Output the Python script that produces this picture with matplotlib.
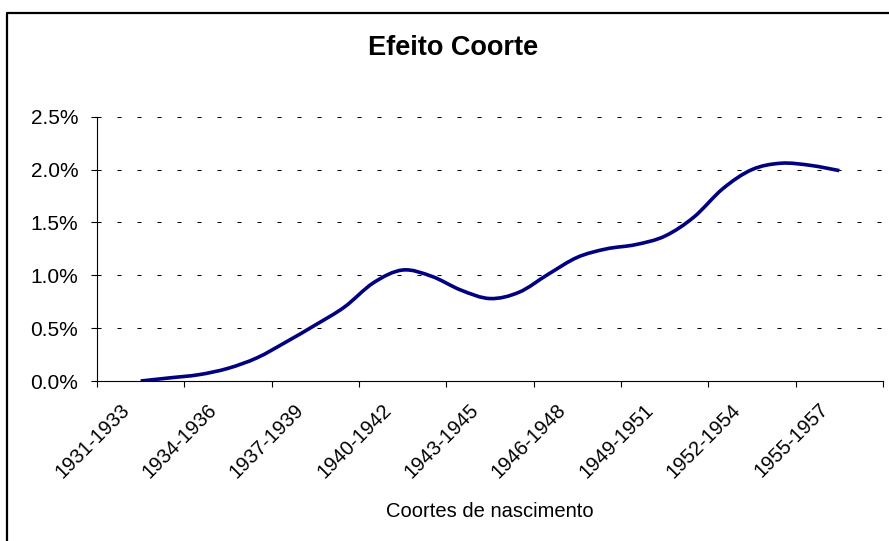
import numpy as np
import matplotlib
matplotlib.use('Agg')
import matplotlib.pyplot as plt
from matplotlib.ticker import PercentFormatter, MultipleLocator
from matplotlib.transforms import ScaledTranslation
from matplotlib.lines import Line2D
from matplotlib.path import Path
from matplotlib.patches import PathPatch

# cohorts of birth, one per year (three-year windows)
cohorts = ['%d-%d' % (y, y + 2) for y in range(1931, 1958)]
# cohort effect in percent (first and last cohort empty)
efeito = [np.nan, 0.00, 0.03, 0.06, 0.12, 0.22, 0.37, 0.53, 0.70, 0.93,
          1.05, 0.99, 0.86, 0.78, 0.84, 1.01, 1.17, 1.25, 1.29, 1.37,
          1.55, 1.82, 2.00, 2.06, 2.04, 1.99, np.nan]
label_every = 3

plt.rcParams['font.family'] = ['Liberation Sans', 'DejaVu Sans']
plt.rcParams['lines.scale_dashes'] = False

DPI = 100


def smooth_path(xs, ys):
    ''' spreadsheet-like smoothed line: bezier through every point '''
    pts = np.column_stack([xs, ys])
    pts = pts[~np.isnan(pts[:, 1])]
    ext = np.vstack([pts[0], pts, pts[-1]])
    verts = [pts[0]]
    codes = [Path.MOVETO]
    for k in range(len(pts) - 1):
        p0, p1, p2, p3 = ext[k], ext[k + 1], ext[k + 2], ext[k + 3]
        verts += [p1 + (p2 - p0) / 6.0, p2 - (p3 - p1) / 6.0, p2]
        codes += [Path.CURVE4] * 3
    return Path(verts, codes)


fig = plt.figure(figsize=(8.89, 5.41), dpi=DPI)
ax = fig.add_axes([0.1091, 0.2957, 0.8842, 0.4886])

x = np.arange(len(cohorts)) + 0.5
ax.add_patch(PathPatch(smooth_path(x, efeito), fill=False,
                       edgecolor='#000080', lw=2.6, joinstyle='round',
                       capstyle='butt', zorder=3))

ax.set_xlim(0, len(cohorts))
ax.set_ylim(0, 2.5)
ax.yaxis.set_major_locator(MultipleLocator(0.5))
ax.yaxis.set_major_formatter(PercentFormatter(xmax=100, decimals=1))
ax.set_xticks(np.arange(0, len(cohorts) + 1, label_every))
ax.set_xticklabels([])

for s in ['top', 'right']:
    ax.spines[s].set_visible(False)
for s in ['left', 'bottom']:
    ax.spines[s].set_linewidth(0.8)
    ax.spines[s].set_color('black')

ax.tick_params(axis='both', direction='out', length=4.5, width=0.8,
               color='black')
ax.tick_params(axis='y', labelsize=15, pad=9)

# dotted horizontal grid like the spreadsheet one
for yv in np.arange(0.5, 2.51, 0.5):
    ax.axhline(yv, color='black', lw=0.75, dashes=(2.9, 11.5), zorder=1)

# rotated category labels, every third cohort
off = ScaledTranslation(8 / DPI, -19 / DPI, fig.dpi_scale_trans)
for i in range(0, len(cohorts), label_every):
    ax.text(x[i], 0, cohorts[i], transform=ax.get_xaxis_transform() + off,
            rotation=45, rotation_mode='anchor', ha='right', va='top',
            fontsize=14.5)

ax.set_xlabel('Coortes de nascimento', fontsize=14.5)
ax.xaxis.set_label_coords(0.5, -0.492)
ax.xaxis.label.set_va('center')

fig.text(0.5093, 0.9113, 'Efeito Coorte', ha='center', va='center',
         fontsize=19.5, fontweight='bold')

# chart area border (only left and top edges fall inside the picture)
fig.add_artist(Line2D([0.0079, 0.0079, 1.0], [0.0, 0.976, 0.976],
                      transform=fig.transFigure, color='black', lw=1.6))

fig.savefig('out.png', dpi=DPI)
